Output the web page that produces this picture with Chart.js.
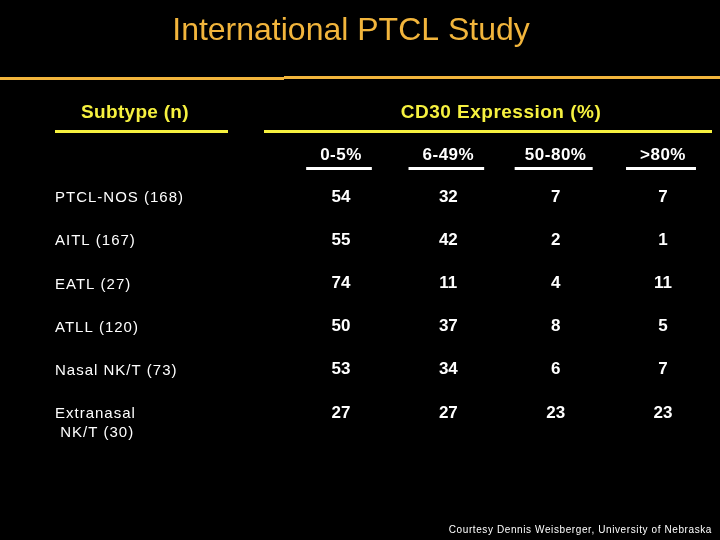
<!DOCTYPE html>
<html>
<head>
<meta charset="utf-8">
<script src="https://cdn.jsdelivr.net/npm/chart.js@4"></script>
<style>
html,body{margin:0;padding:0;background:#000;}
canvas{display:block;}
</style>
</head>
<body>
<canvas id="c" width="720" height="540"></canvas>
<script>
const subtypes = ["PTCL-NOS (168)", "AITL (167)", "EATL (27)", "ATLL (120)", "Nasal NK/T (73)", "Extranasal\n NK/T (30)"];
const cd30Columns = ["0-5%", "6-49%", "50-80%", ">80%"];
const pct0to5 = [54, 55, 74, 50, 53, 27];
const pct6to49 = [32, 42, 11, 37, 34, 27];
const pct50to80 = [7, 2, 4, 8, 6, 23];
const pctOver80 = [7, 1, 11, 5, 7, 23];
const columnValues = [pct0to5, pct6to49, pct50to80, pctOver80];

const FONT = '"Liberation Sans", Arial, sans-serif';

const datasets = columnValues.map((vals, j) => ({
  label: cd30Columns[j],
  data: vals.map((v, i) => ({ x: cd30Columns[j], y: subtypes[i], v: v })),
  pointRadius: 0,
  pointHoverRadius: 0,
  showLine: false
}));

const tablePlugin = {
  id: 'tablePlugin',
  beforeDraw(chart) {
    const ctx = chart.ctx;
    ctx.save();
    ctx.fillStyle = '#000';
    ctx.fillRect(0, 0, chart.width, chart.height);
    ctx.restore();
  },
  afterDatasetsDraw(chart) {
    const ctx = chart.ctx;
    const xs = chart.scales.x, ys = chart.scales.y;
    ctx.save();
    // Title
    ctx.fillStyle = '#F2B53C';
    ctx.font = '32px ' + FONT;
    ctx.textAlign = 'center';
    ctx.textBaseline = 'middle';
    ctx.fillText('International PTCL Study', 351, 31);
    // Orange rule
    ctx.strokeStyle = '#F2B53C';
    ctx.lineWidth = 3;
    ctx.beginPath(); ctx.moveTo(0, 78.5); ctx.lineTo(284, 78.5); ctx.stroke();
    ctx.beginPath(); ctx.moveTo(284, 77.5); ctx.lineTo(720, 77.5); ctx.stroke();
    // Group headers
    ctx.fillStyle = '#F6F13F';
    ctx.font = 'bold 19px ' + FONT;
    ctx.letterSpacing = '0.3px';
    ctx.fillText('Subtype (n)', 135, 113);
    ctx.letterSpacing = '0.5px';
    ctx.fillText('CD30 Expression (%)', 501, 113);
    ctx.strokeStyle = '#F6F13F';
    ctx.lineWidth = 3;
    ctx.beginPath(); ctx.moveTo(55, 131.5); ctx.lineTo(228, 131.5); ctx.stroke();
    ctx.beginPath(); ctx.moveTo(264, 131.5); ctx.lineTo(712, 131.5); ctx.stroke();
    // Column headers
    ctx.fillStyle = '#FFFFFF';
    ctx.strokeStyle = '#FFFFFF';
    ctx.font = 'bold 17px ' + FONT;
    ctx.letterSpacing = '0.5px';
    cd30Columns.forEach((c, j) => {
      const x = xs.getPixelForValue(j) - 2;
      ctx.fillText(c, x + 2, 155);
      const w = Math.min(78, ctx.measureText(c).width + 24);
      ctx.beginPath(); ctx.moveTo(x - w / 2, 168.5); ctx.lineTo(x + w / 2, 168.5); ctx.stroke();
    });
    // Row labels
    ctx.textAlign = 'left';
    ctx.font = '15px ' + FONT;
    ctx.letterSpacing = '1px';
    subtypes.forEach((s, i) => {
      const y = ys.getPixelForValue(i) + 1;
      s.split('\n').forEach((line, k) => ctx.fillText(line, 55, y + k * 19));
    });
    // Values
    ctx.textAlign = 'center';
    ctx.font = 'bold 17px ' + FONT;
    ctx.letterSpacing = '0px';
    chart.data.datasets.forEach((ds, j) => {
      const meta = chart.getDatasetMeta(j);
      meta.data.forEach((pt, i) => {
        ctx.fillText(String(ds.data[i].v), pt.x, pt.y);
      });
    });
    // Footnote
    ctx.font = '10px ' + FONT;
    ctx.letterSpacing = '0.6px';
    ctx.textAlign = 'right';
    ctx.fillText('Courtesy Dennis Weisberger, University of Nebraska', 712, 530);
    ctx.restore();
  }
};

new Chart(document.getElementById('c'), {
  type: 'scatter',
  data: { datasets },
  options: {
    responsive: false,
    animation: false,
    events: [],
    layout: { padding: { left: 341, right: 57, top: 197, bottom: 127 } },
    plugins: { legend: { display: false }, tooltip: { enabled: false }, title: { display: false } },
    scales: {
      x: { type: 'category', labels: cd30Columns, offset: false, display: false },
      y: { type: 'category', labels: subtypes, offset: false, display: false }
    }
  },
  plugins: [tablePlugin]
});
</script>
</body>
</html>
